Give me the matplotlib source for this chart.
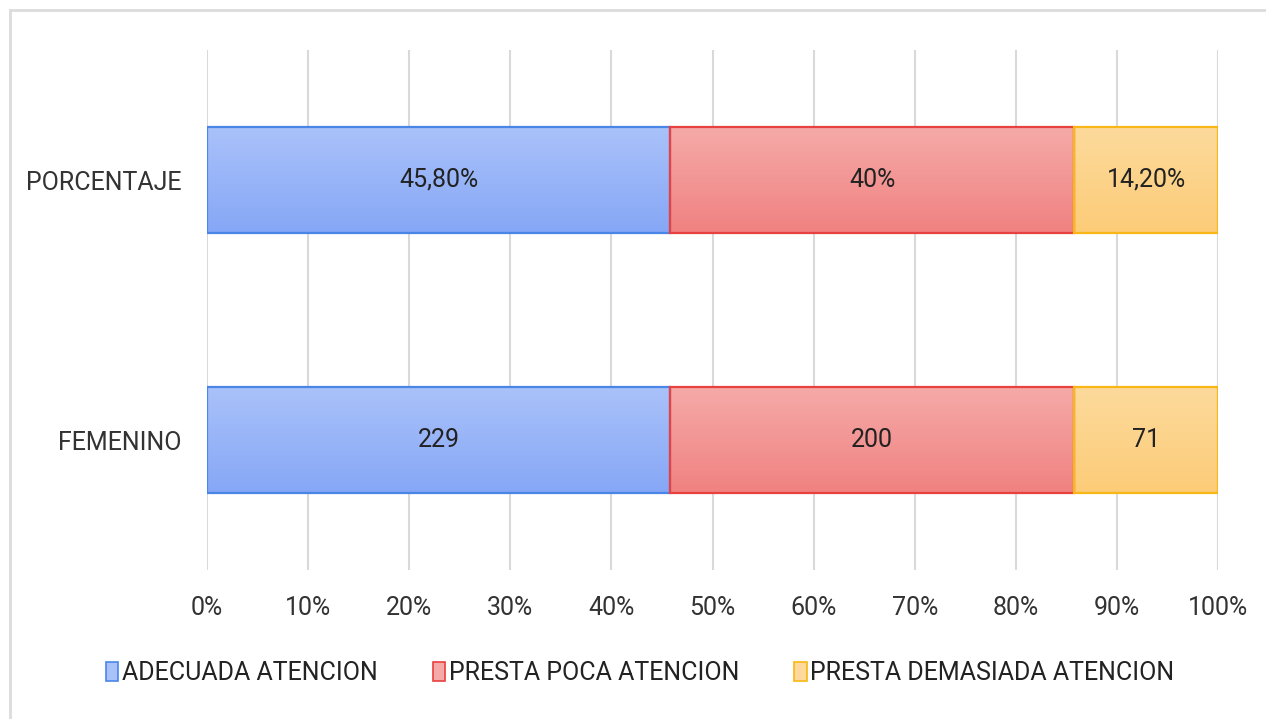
import numpy as np
import matplotlib.pyplot as plt
from matplotlib import font_manager
from matplotlib.colors import LinearSegmentedColormap
from matplotlib.patches import Patch
from matplotlib.lines import Line2D

categories = ["FEMENINO", "PORCENTAJE"]
series = ["ADECUADA ATENCION", "PRESTA POCA ATENCION", "PRESTA DEMASIADA ATENCION"]
femenino = [229, 200, 71]
porcentaje = [45.8, 40.0, 14.2]
labels_fem = ["229", "200", "71"]
labels_pct = ["45,80%", "40%", "14,20%"]
ticks = [0, 10, 20, 30, 40, 50, 60, 70, 80, 90, 100]

# top colour, bottom colour, edge colour
colors = [("#aac2fa", "#86a7f6", "#4a86e8"),
          ("#f5aaa8", "#f08281", "#e8413f"),
          ("#fdda9c", "#fccc78", "#f8b716")]

# the original uses a squeezed Arial; take a narrow face if there is one
names = {f.name for f in font_manager.fontManager.ttflist}
if "Liberation Sans Narrow" in names:
    plt.rcParams['font.family'] = ['Liberation Sans Narrow', 'DejaVu Sans']
    fs = 21
else:
    plt.rcParams['font.family'] = ['Roboto', 'DejaVu Sans']
    fs = 18

fig = plt.figure(figsize=(12.66, 7.19), dpi=100)
ax = fig.add_axes([207 / 1266, 149 / 719, 1011 / 1266, 520 / 719])

rows = [(femenino, labels_fem), (porcentaje, labels_pct)]
height = 0.404
for yi, (vals, labs) in enumerate(rows):
    total = sum(vals)
    shares = [v / total * 100 for v in vals]
    left = 0
    for k, (s, lab) in enumerate(zip(shares, labs)):
        top_c, bot_c, edge_c = colors[k]
        bar = ax.barh(yi, s, left=left, height=height, color="none",
                      edgecolor=edge_c, linewidth=1.6, zorder=3)[0]
        cmap = LinearSegmentedColormap.from_list(f"g{k}", [bot_c, top_c])
        grad = np.linspace(0, 1, 100).reshape(-1, 1)
        im = ax.imshow(grad, cmap=cmap, aspect="auto", origin="lower",
                       extent=[left, left + s, yi - height / 2, yi + height / 2],
                       zorder=2)
        im.set_clip_path(bar)
        ax.text(left + s / 2, yi, lab, ha="center", va="center",
                fontsize=fs, color="#222222", zorder=4)
        left += s

ax.set_xlim(0, 100)
ax.set_ylim(-0.5, 1.5)
ax.set_xticks(ticks)
ax.set_xticklabels([f"{t}%" for t in ticks], fontsize=fs, color="#333333")
ax.set_yticks(range(len(categories)))
ax.set_yticklabels(categories, fontsize=fs, color="#333333")
ax.tick_params(axis="x", length=0, pad=19)
ax.tick_params(axis="y", length=0, pad=18)
ax.grid(axis="x", color="#d9d9d9", linewidth=1.5, zorder=0)
ax.set_axisbelow(True)
for sp in ax.spines.values():
    sp.set_visible(False)

handles = [Patch(facecolor=c[0], edgecolor=c[2], linewidth=1.2) for c in colors]
fig.legend(handles, series, loc="center", bbox_to_anchor=(640 / 1266, 1 - 673 / 719),
           ncol=3, frameon=False, fontsize=fs, handlelength=0.5, handleheight=0.8,
           handletextpad=0.15, columnspacing=2.2, labelcolor="#222222")

# outer frame
fig.add_artist(Line2D([10 / 1266, 1], [1 - 10 / 719] * 2, color="#dcdcdc", lw=2,
                      transform=fig.transFigure))
fig.add_artist(Line2D([10 / 1266] * 2, [0, 1 - 10 / 719], color="#dcdcdc", lw=2,
                      transform=fig.transFigure))

fig.savefig("out.png", dpi=100)
